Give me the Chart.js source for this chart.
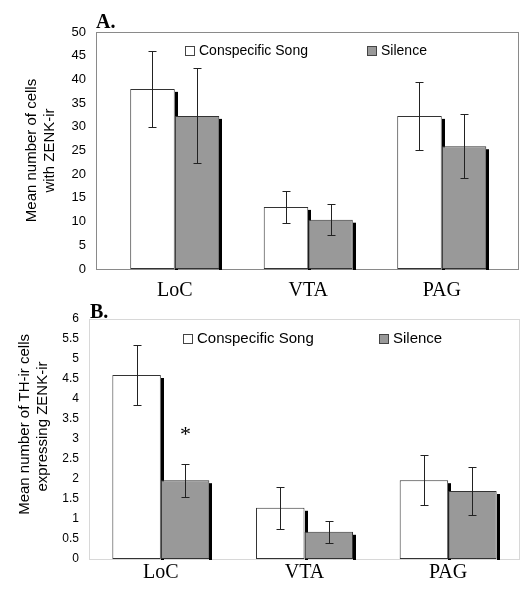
<!DOCTYPE html>
<html>
<head>
<meta charset="utf-8">
<script src="https://cdn.jsdelivr.net/npm/chart.js@4.4.0/dist/chart.umd.min.js"></script>
<style>
  body { margin: 0; background: #fff; }
  canvas { position: absolute; left: 0; }
</style>
</head>
<body>
<canvas id="chartA" width="530" height="300" style="top:0px"></canvas>
<canvas id="chartB" width="530" height="299" style="top:300px"></canvas>
<script>
const regions = ['LoC', 'VTA', 'PAG'];
const seriesNames = ['Conspecific Song', 'Silence'];

// A. mean number of cells with ZENK-ir
const songA = [38.0, 13.1, 32.3];
const songErrA = [8.0, 3.4, 7.1];
const silenceA = [32.3, 10.4, 25.9];
const silenceErrA = [10.0, 3.3, 6.8];

// B. mean number of TH-ir cells expressing ZENK-ir
const songB = [4.6, 1.28, 1.97];
const songErrB = [0.74, 0.52, 0.63];
const silenceB = [1.97, 0.68, 1.70];
const silenceErrB = [0.41, 0.28, 0.61];
const silenceMarksB = ['*', '', ''];

const sans = "'Liberation Sans', Arial, sans-serif";
const serif = "'Liberation Serif', 'Times New Roman', serif";

// frame + black drop shadow on the right of every bar
const framePlugin = {
  id: 'frame',
  beforeDatasetsDraw(chart, args, opts) {
    const ctx = chart.ctx;
    ctx.save();
    ctx.strokeStyle = opts.color;
    ctx.lineWidth = 1;
    ctx.strokeRect(opts.left + 0.5, opts.top + 0.5, opts.right - opts.left, opts.bottom - opts.top);
    ctx.fillStyle = '#000';
    chart.data.datasets.forEach((ds, i) => {
      chart.getDatasetMeta(i).data.forEach(bar => {
        const right = Math.round(bar.x + bar.width / 2);
        ctx.fillRect(right, bar.y + 3, 3, bar.base - bar.y - 2);
      });
    });
    ctx.restore();
  }
};

const errorPlugin = {
  id: 'errorBars',
  afterDatasetsDraw(chart) {
    const ctx = chart.ctx;
    const y = chart.scales.y;
    ctx.save();
    ctx.strokeStyle = '#222';
    ctx.lineWidth = 1;
    chart.data.datasets.forEach((ds, i) => {
      chart.getDatasetMeta(i).data.forEach((bar, j) => {
        const v = ds.data[j], e = ds.errors[j];
        const x = Math.round(bar.x) + 0.5;
        const top = Math.round(y.getPixelForValue(v + e)) + 0.5;
        const bot = Math.round(y.getPixelForValue(v - e)) + 0.5;
        ctx.beginPath();
        ctx.moveTo(x, top); ctx.lineTo(x, bot);
        ctx.moveTo(x - 4, top); ctx.lineTo(x + 4, top);
        ctx.moveTo(x - 4, bot); ctx.lineTo(x + 4, bot);
        ctx.stroke();
        if (ds.marks && ds.marks[j]) {
          ctx.fillStyle = '#000';
          ctx.font = '22px ' + serif;
          ctx.textAlign = 'center';
          ctx.textBaseline = 'alphabetic';
          ctx.fillText(ds.marks[j], x, top - 24);
        }
      });
    });
    ctx.restore();
  }
};

// legend drawn inside the plot, plus the panel letter
const boxLegend = {
  id: 'boxLegend',
  afterDraw(chart, args, opts) {
    const ctx = chart.ctx;
    ctx.save();
    ctx.font = opts.fontSize + 'px ' + sans;
    ctx.textBaseline = 'middle';
    ctx.textAlign = 'left';
    chart.data.datasets.forEach((ds, i) => {
      const x = opts.xs[i];
      ctx.fillStyle = ds.backgroundColor;
      ctx.fillRect(x + 0.5, opts.y - 4.5, 9, 9);
      ctx.strokeStyle = '#444';
      ctx.strokeRect(x + 0.5, opts.y - 4.5, 9, 9);
      ctx.fillStyle = '#000';
      ctx.fillText(ds.label, x + 14, opts.y);
    });
    ctx.font = 'bold 20px ' + serif;
    ctx.textBaseline = 'alphabetic';
    ctx.fillText(opts.letter, opts.letterX, opts.letterY);
    ctx.restore();
  }
};

function makePanel(id, p) {
  return new Chart(document.getElementById(id), {
    type: 'bar',
    data: {
      labels: regions,
      datasets: [
        { label: seriesNames[0], data: p.song, errors: p.songErr,
          backgroundColor: '#ffffff', borderColor: '#333', borderWidth: 1, borderSkipped: false },
        { label: seriesNames[1], data: p.silence, errors: p.silenceErr, marks: p.marks,
          backgroundColor: '#999999', borderColor: '#333', borderWidth: 1, borderSkipped: false }
      ]
    },
    options: {
      responsive: false,
      animation: false,
      events: [],
      categoryPercentage: p.catPct,
      barPercentage: 1.0,
      layout: { padding: { top: p.area.top, right: 530 - p.area.right, left: 0, bottom: 0 } },
      scales: {
        x: {
          grid: { display: false, drawTicks: false },
          border: { display: false },
          ticks: { color: '#000', padding: p.xPad, font: { family: serif, size: 20 } },
          afterFit(scale) { scale.height = p.height - p.area.bottom; }
        },
        y: {
          min: 0, max: p.max,
          grid: { display: false, drawTicks: false },
          border: { display: false },
          ticks: { stepSize: p.step, autoSkip: false, color: '#000', padding: p.yPad,
                   font: { family: sans, size: p.tickSize },
                   callback: v => String(Math.round(v * 10) / 10) },
          title: { display: true, text: p.yTitle, color: '#000', padding: { top: p.titlePad, bottom: 0 },
                   font: { family: sans, size: 15 } },
          afterFit(scale) { scale.width = p.area.left; }
        }
      },
      plugins: {
        legend: { display: false },
        tooltip: { enabled: false },
        frame: p.frame,
        boxLegend: p.legend
      }
    },
    plugins: [framePlugin, errorPlugin, boxLegend]
  });
}

makePanel('chartA', {
  song: songA, songErr: songErrA, silence: silenceA, silenceErr: silenceErrA,
  max: 50, step: 5, tickSize: 13, catPct: 0.667, height: 300,
  area: { left: 108, right: 508.5, top: 32, bottom: 269 },
  frame: { left: 96, right: 518, top: 32, bottom: 269, color: '#8a8a8a' },
  xPad: 10, yPad: 22, titlePad: 23,
  yTitle: ['Mean number of cells', 'with ZENK-ir'],
  legend: { xs: [185, 367], y: 51, fontSize: 14, letter: 'A.', letterX: 96, letterY: 28 }
});

makePanel('chartB', {
  song: songB, songErr: songErrB, silence: silenceB, silenceErr: silenceErrB, marks: silenceMarksB,
  max: 6, step: 0.5, tickSize: 12, catPct: 0.675, height: 299,
  area: { left: 89, right: 520, top: 19, bottom: 259 },
  frame: { left: 89, right: 519, top: 19, bottom: 259, color: '#d8d8d8' },
  xPad: 2, yPad: 10, titlePad: 16,
  yTitle: ['       Mean number of TH-ir cells', '      expressing ZENK-ir'],
  legend: { xs: [183, 379], y: 39, fontSize: 15, letter: 'B.', letterX: 90, letterY: 18 }
});
</script>
</body>
</html>
